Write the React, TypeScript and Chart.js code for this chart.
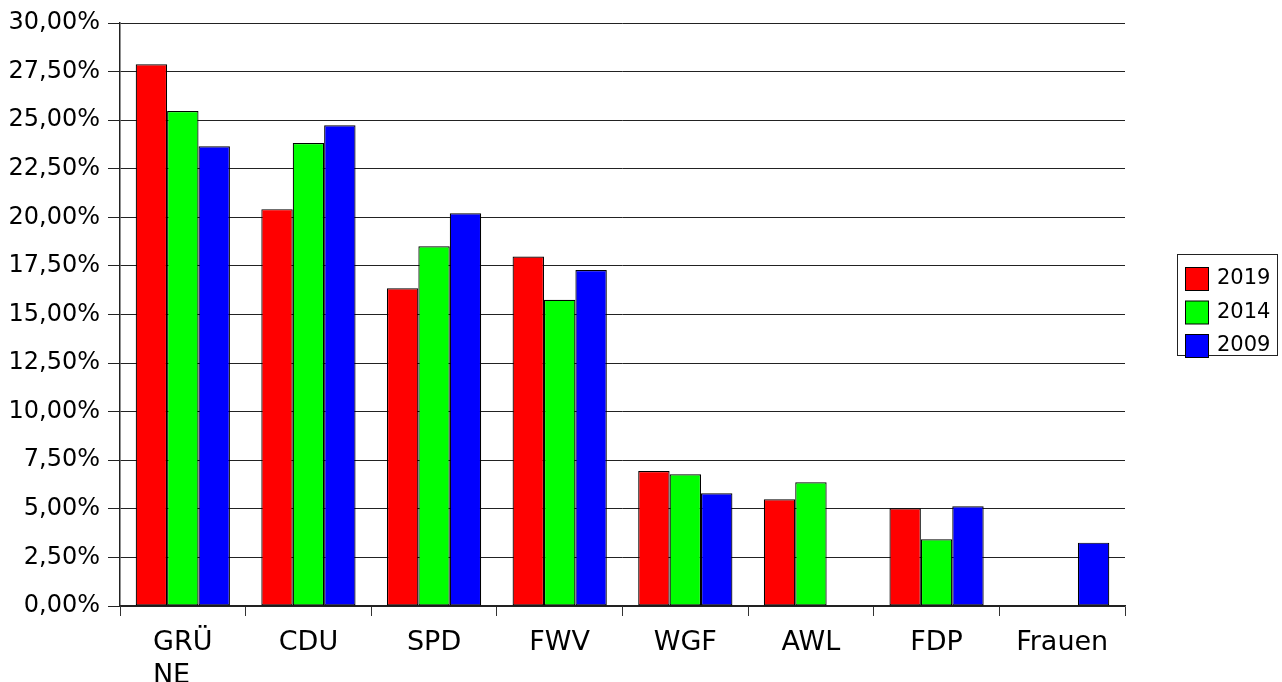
import React, { useEffect, useRef } from "react";
import { Chart, registerables } from "chart.js";

Chart.register(...registerables);

const categories: (string | string[])[] = [["GRÜ", "NE\u00a0\u00a0\u2009"], "CDU", "SPD", "FWV", "WGF", "AWL", "FDP", "Frauen"];
const seriesLabels = ["2019", "2014", "2009"];
const values2019 = [27.88, 20.42, 16.35, 17.98, 6.95, 5.49, 5.03, 0];
const values2014 = [25.47, 23.82, 18.51, 15.76, 6.78, 6.37, 3.43, 0];
const values2009 = [23.66, 24.74, 20.21, 17.29, 5.8, 0, 5.13, 3.26];
const seriesColors = ["#ff0000", "#00ff00", "#0000ff"];
const yMin = 0;
const yMax = 30;
const yStep = 2.5;

const FONT = "'DejaVu Sans', 'Liberation Sans', sans-serif";

const legendPlugin = {
  id: "boxLegend",
  afterDraw(chart: any) {
    const ctx = chart.ctx as CanvasRenderingContext2D;
    const bx = 1177.5, by = 254.5, bw = 100, bh = 101;
    ctx.save();
    ctx.fillStyle = "#ffffff";
    ctx.fillRect(bx, by, bw, bh);
    ctx.strokeStyle = "#222";
    ctx.lineWidth = 1;
    ctx.strokeRect(bx, by, bw, bh);
    chart.data.datasets.forEach((ds: any, i: number) => {
      const sy = 267 + i * 33.5;
      ctx.fillStyle = ds.backgroundColor;
      ctx.fillRect(1185.5, sy + 0.5, 23, 23);
      ctx.strokeStyle = "#000";
      ctx.strokeRect(1185.5, sy + 0.5, 23, 23);
      ctx.fillStyle = "#000";
      ctx.font = `21px ${FONT}`;
      ctx.textBaseline = "middle";
      ctx.textAlign = "left";
      ctx.fillText(ds.label, 1217, sy + 12);
    });
    ctx.restore();
  },
};

export default function App() {
  const ref = useRef<HTMLCanvasElement | null>(null);
  useEffect(() => {
    document.body.style.margin = "0";
    document.body.style.overflow = "hidden";
    const canvas = ref.current;
    if (!canvas) return;
    const data = [values2019, values2014, values2009];
    const chart = new Chart(canvas, {
      type: "bar",
      data: {
        labels: categories,
        datasets: seriesLabels.map((l, i) => ({
          label: l,
          data: data[i],
          backgroundColor: seriesColors[i],
          borderColor: "#000",
          borderWidth: 1.2,
          borderSkipped: false,
          categoryPercentage: 0.75,
          barPercentage: 1.0,
        })),
      },
      options: {
        responsive: false,
        animation: false,
        events: [],
        layout: { padding: { top: 23, right: 157, left: 0, bottom: 0 } },
        plugins: {
          legend: { display: false },
          tooltip: { enabled: false },
          title: { display: false },
        },
        scales: {
          x: {
            afterFit: (s: any) => {
              s.height = 76;
            },
            grid: {
              display: true,
              drawOnChartArea: false,
              drawTicks: true,
              tickLength: 10,
              offset: true,
              color: "#333",
            },
            border: { display: true, color: "#222", width: 1.5 },
            ticks: {
              color: "#000",
              font: { family: FONT, size: 27, lineHeight: 1.2 },
              padding: 11,
              maxRotation: 0,
              autoSkip: false,
            },
          },
          y: {
            min: yMin,
            max: yMax,
            afterFit: (s: any) => {
              s.width = 120;
            },
            grid: {
              color: "#222",
              lineWidth: 1,
              tickLength: 12,
              drawTicks: true,
            },
            border: { display: true, color: "#222", width: 1.5 },
            ticks: {
              stepSize: yStep,
              color: "#000",
              padding: 8,
              font: { family: FONT, size: 24 },
              callback: (v: any) => Number(v).toFixed(2).replace(".", ",") + "%",
            },
          },
        },
      },
      plugins: [legendPlugin],
    });
    return () => chart.destroy();
  }, []);
  return (
    <div style={{ width: 1282, height: 682, background: "#fff" }}>
      <canvas ref={ref} width={1282} height={682} style={{ display: "block" }} />
    </div>
  );
}
